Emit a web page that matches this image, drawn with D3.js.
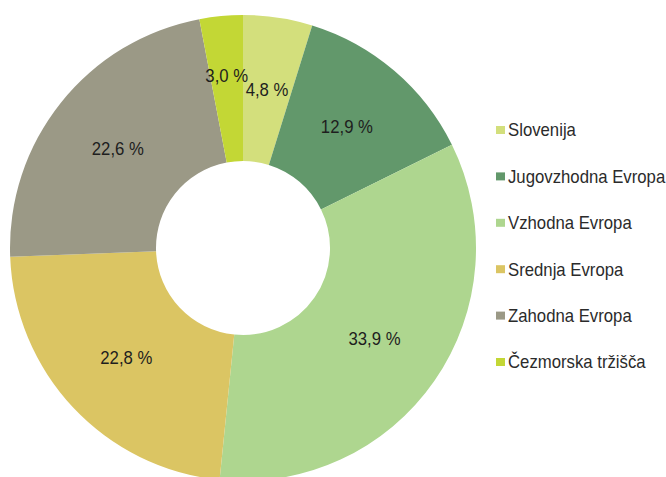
<!DOCTYPE html>
<html>
<head>
<meta charset="utf-8">
<script src="https://cdn.jsdelivr.net/npm/d3@7"></script>
<style>
  body { margin: 0; background: #fff; }
  svg { display: block; font-family: "Liberation Sans", Arial, sans-serif; }
</style>
</head>
<body>
<div class="container"></div>
<script>
const w = 666;
const h = 477;

// data (share of sales, %)
const regions = ['Slovenija', 'Jugovzhodna Evropa', 'Vzhodna Evropa', 'Srednja Evropa', 'Zahodna Evropa', 'Čezmorska tržišča'];
const shares = [4.8, 12.9, 33.9, 22.8, 22.6, 3.0];
const colors = ['#d3df7c', '#62986b', '#aed68f', '#dbc563', '#9b9986', '#c3d735'];

const cx = 243;
const cy = 248;
const outerR = 233;
const innerR = 87;
const squeeze = 0.93; // the original text is a bit narrow

const svg = d3.select('.container')
    .append('svg')
    .attr('width', w)
    .attr('height', h);

const pie = d3.pie().sort(null).value(d => d.v);
const arcs = pie(regions.map((r, i) => ({ name: r, v: shares[i], color: colors[i] })));

const arc = d3.arc().innerRadius(innerR).outerRadius(outerR);
const labelArc = d3.arc().innerRadius((innerR + outerR) / 2).outerRadius((innerR + outerR) / 2);

const g = svg.append('g').attr('transform', `translate(${cx}, ${cy})`);

g.selectAll('path')
    .data(arcs)
    .enter()
    .append('path')
    .attr('d', arc)
    .attr('fill', d => d.data.color);

g.selectAll('text')
    .data(arcs)
    .enter()
    .append('text')
    .attr('transform', d => {
        let c = labelArc.centroid(d);
        // tiny last slice: label sits a bit further out, like the original
        if (d.data.v < 4) c = [c[0] * 1.08, c[1] * 1.08];
        return `translate(${c[0]}, ${c[1]}) scale(${squeeze}, 1)`;
    })
    .attr('text-anchor', 'middle')
    .attr('dy', '0.35em')
    .style('font-size', '18px')
    .style('fill', '#1e1e1e')
    .text(d => d.data.v.toFixed(1).replace('.', ',') + ' %');

const legend = svg.append('g').attr('transform', 'translate(496, 130)');

const item = legend.selectAll('g')
    .data(regions)
    .enter()
    .append('g')
    .attr('transform', (d, i) => `translate(0, ${i * 46.4})`);

item.append('rect')
    .attr('x', 0)
    .attr('y', -4)
    .attr('width', 9)
    .attr('height', 8)
    .attr('fill', (d, i) => colors[i]);

item.append('text')
    .attr('transform', `translate(12, 0) scale(${squeeze}, 1)`)
    .attr('dy', '0.36em')
    .style('font-size', '18px')
    .style('fill', '#2b2b2b')
    .text(d => d);
</script>
</body>
</html>
